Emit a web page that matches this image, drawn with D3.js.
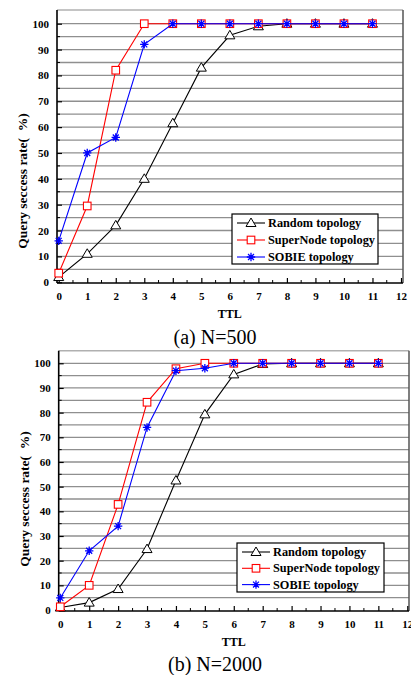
<!DOCTYPE html>
<html>
<head>
<meta charset="utf-8">
<script src="https://d3js.org/d3.v7.min.js"></script>
<style>
  body { margin: 0; background: #fff; }
  text { font-family: "Liberation Serif", "Times New Roman", serif; }
</style>
</head>
<body>
<script>
  const ttl = [0, 1, 2, 3, 4, 5, 6, 7, 8, 9, 10, 11];
  const xTicks = [0, 1, 2, 3, 4, 5, 6, 7, 8, 9, 10, 11, 12];
  const yTicks = [0, 10, 20, 30, 40, 50, 60, 70, 80, 90, 100];
  const seriesNames = ["Random topology", "SuperNode topology", "SOBIE topology"];

  // N=500
  const random500 = [2, 11, 22, 40, 61.5, 83, 95.5, 99, 100, 100, 100, 100];
  const super500 = [3.5, 29.5, 82, 100, 100, 100, 100, 100, 100, 100, 100, 100];
  const sobie500 = [16, 50, 56, 92, 100, 100, 100, 100, 100, 100, 100, 100];

  // N=2000
  const random2000 = [1, 3, 8.5, 24.7, 52.5, 79.3, 95.5, 99.7, 100, 100, 100, 100];
  const super2000 = [1.3, 10, 42.8, 84.2, 97.8, 100, 100, 100, 100, 100, 100, 100];
  const sobie2000 = [4.9, 24, 34, 74, 97, 98, 100, 100, 100, 100, 100, 100];

  const W = 411, H = 675;
  const svg = d3.select("body").append("svg").attr("width", W).attr("height", H);

  const styles = [
    { color: "#000", marker: "triangle" },
    { color: "#ff0000", marker: "square" },
    { color: "#0000ff", marker: "star" }
  ];

  function marker(g, type, x, y, color) {
    if (type === "triangle") {
      g.append("path")
        .attr("d", `M${x},${y - 5}L${x + 5},${y + 3.5}L${x - 5},${y + 3.5}Z`)
        .attr("fill", "#fff").attr("stroke", color).attr("stroke-width", 1);
    } else if (type === "square") {
      g.append("rect").attr("x", x - 3.8).attr("y", y - 3.8)
        .attr("width", 7.6).attr("height", 7.6)
        .attr("fill", "#fff").attr("stroke", color).attr("stroke-width", 1.1);
    } else {
      const r = 4.2;
      let d = "";
      for (let a = 0; a < 4; a++) {
        const ang = a * Math.PI / 4;
        d += `M${x - r * Math.cos(ang)},${y - r * Math.sin(ang)}L${x + r * Math.cos(ang)},${y + r * Math.sin(ang)}`;
      }
      g.append("path").attr("d", d).attr("stroke", color).attr("stroke-width", 1.3);
      g.append("circle").attr("cx", x).attr("cy", y).attr("r", 1.6).attr("fill", color);
    }
  }

  function drawChart(cfg) {
    const g = svg.append("g");
    const x = d3.scaleLinear().domain(cfg.xDomain).range([cfg.left, cfg.right]);
    const y = d3.scaleLinear().domain(cfg.yDomain).range([cfg.bottom, cfg.top]);

    // grid every 5
    const grid = d3.range(5, 105, 5);
    g.selectAll(".grid").data(grid).enter().append("line")
      .attr("x1", cfg.left).attr("x2", cfg.right)
      .attr("y1", d => y(d)).attr("y2", d => y(d))
      .attr("stroke", "#8f8f8f").attr("stroke-width", 1.3);

    // frame top/right
    g.append("line").attr("x1", cfg.left).attr("x2", cfg.right)
      .attr("y1", cfg.top).attr("y2", cfg.top).attr("stroke", "#b0b0b0").attr("stroke-width", 1.5);
    g.append("line").attr("x1", cfg.right).attr("x2", cfg.right)
      .attr("y1", cfg.top).attr("y2", cfg.bottom).attr("stroke", "#555").attr("stroke-width", 1.5);

    // axes
    const xAxis = d3.axisBottom(x).tickValues(xTicks).tickSize(-5).tickPadding(9).tickFormat(d3.format("d"));
    const xa = g.append("g").attr("transform", `translate(0,${cfg.bottom})`).call(xAxis);
    xa.select(".domain").attr("d", `M${cfg.left},0H${cfg.right}`).attr("stroke", "#000").attr("stroke-width", 1.6);
    const yAxis = d3.axisLeft(y).tickValues(yTicks).tickSize(-5).tickPadding(8).tickFormat(d3.format("d"));
    const ya = g.append("g").attr("transform", `translate(${cfg.left},0)`).call(yAxis);
    ya.select(".domain").attr("d", `M0,${cfg.top}V${cfg.bottom}`).attr("stroke", "#000").attr("stroke-width", 1.6);
    [xa, ya].forEach(a => {
      a.selectAll(".tick line").attr("stroke", "#000").attr("stroke-width", 1.2);
      a.selectAll(".tick text").attr("font-family", "Liberation Serif").attr("font-weight", "bold")
        .attr("font-size", "11px").attr("fill", "#000");
    });
    // minor ticks
    d3.range(0.5, 12, 1).forEach(v => {
      g.append("line").attr("x1", x(v)).attr("x2", x(v))
        .attr("y1", cfg.bottom).attr("y2", cfg.bottom - 3).attr("stroke", "#000").attr("stroke-width", 1);
    });
    d3.range(5, 105, 10).forEach(v => {
      g.append("line").attr("x1", cfg.left).attr("x2", cfg.left + 3)
        .attr("y1", y(v)).attr("y2", y(v)).attr("stroke", "#000").attr("stroke-width", 1);
    });

    // series
    cfg.series.forEach((vals, i) => {
      const st = styles[i];
      const pts = ttl.map((t, j) => [x(t), y(vals[j])]);
      g.append("path").attr("d", d3.line()(pts)).attr("fill", "none")
        .attr("stroke", st.color).attr("stroke-width", 1.1);
      pts.forEach(p => marker(g, st.marker, p[0], p[1], st.color));
    });

    // labels
    g.append("text").attr("x", x(6)).attr("y", cfg.bottom + 35)
      .attr("text-anchor", "middle").attr("font-weight", "bold").attr("font-size", "12px").text("TTL");
    g.append("text").attr("transform", `translate(${cfg.left - 30},${cfg.labelY}) rotate(-90)`)
      .attr("text-anchor", "middle").attr("font-weight", "bold").attr("font-size", "13.5px")
      .attr("xml:space", "preserve").text("Query seccess rate(  %)");
    g.append("text").attr("x", cfg.capX).attr("y", cfg.capY)
      .attr("text-anchor", "middle").attr("font-size", "20px").text(cfg.caption);

    // legend
    const L = cfg.legend;
    g.append("rect").attr("x", L.x).attr("y", L.y).attr("width", L.w).attr("height", L.h)
      .attr("fill", "#fff").attr("stroke", "#000").attr("stroke-width", 1.2);
    seriesNames.forEach((name, i) => {
      const ry = L.y + 9 + i * L.step;
      g.append("line").attr("x1", L.x + 5).attr("x2", L.x + 33).attr("y1", ry).attr("y2", ry)
        .attr("stroke", styles[i].color).attr("stroke-width", 1.1);
      marker(g, styles[i].marker, L.x + 19, ry, styles[i].color);
      g.append("text").attr("x", L.x + 36).attr("y", ry + 4).attr("font-weight", "bold")
        .attr("font-size", "12.3px").attr("fill", "#000").text(name);
    });
  }

  drawChart({
    left: 57, right: 403, top: 10, bottom: 283,
    xDomain: [-0.06, 12.07], yDomain: [-0.3, 105.3],
    series: [random500, super500, sobie500],
    labelY: 181, caption: "(a) N=500", capX: 215, capY: 344,
    legend: { x: 232, y: 214, w: 146, h: 50, step: 17 }
  });

  drawChart({
    left: 58.7, right: 409, top: 350.7, bottom: 611,
    xDomain: [-0.055, 12.06], yDomain: [-0.4, 105.1],
    series: [random2000, super2000, sobie2000],
    labelY: 499, caption: "(b) N=2000", capX: 215, capY: 671,
    legend: { x: 237, y: 543, w: 147, h: 49, step: 16.3 }
  });
</script>
</body>
</html>
